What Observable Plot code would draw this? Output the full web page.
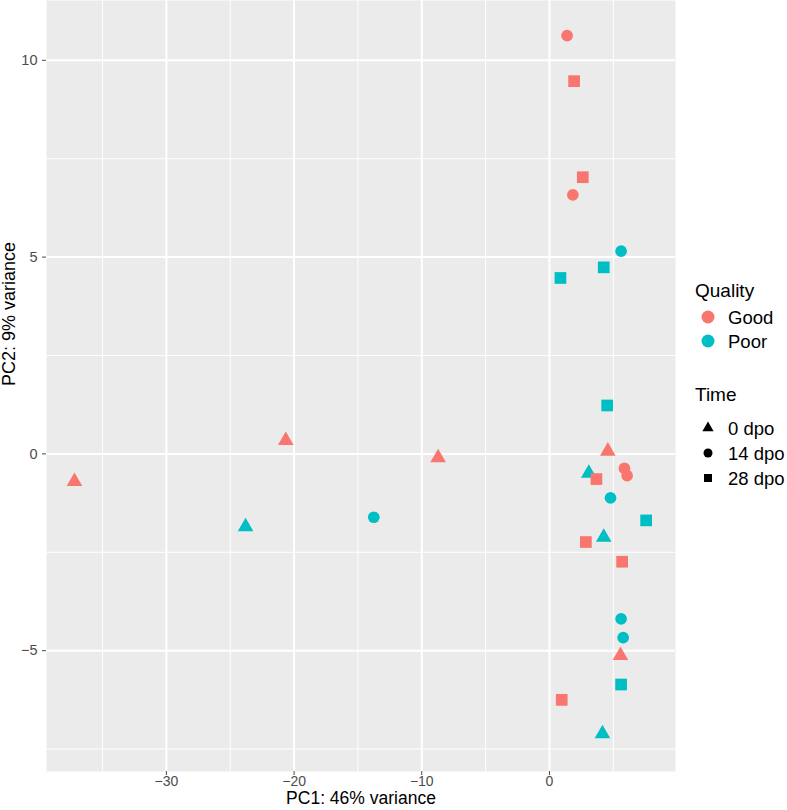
<!DOCTYPE html>
<html>
<head>
<meta charset="utf-8">
<script src="https://cdn.jsdelivr.net/npm/d3@7"></script>
<script src="https://cdn.jsdelivr.net/npm/@observablehq/plot@0.6"></script>
<style>
  body { margin: 0; background: #fff; font-family: "Liberation Sans", Arial, sans-serif; }
  #wrap { position: relative; width: 787px; height: 810px; }
  #legend { position: absolute; left: 680px; top: 270px; }
</style>
</head>
<body>
<div id="wrap"></div>
<script>
// ---- data ----
const qualityLevels = ["Good", "Poor"];
const qualityColors = ["#F8766D", "#00BFC4"];
const timeLevels = ["0 dpo", "14 dpo", "28 dpo"];
const timeSymbols = ["triangle", "circle", "square"];

const quality = [
  "Good","Good","Good","Good","Good",
  "Good","Good","Good","Good",
  "Good","Good","Good","Good","Good","Good",
  "Poor","Poor","Poor","Poor",
  "Poor","Poor","Poor","Poor","Poor",
  "Poor","Poor","Poor","Poor","Poor"
];
const time = [
  "0 dpo","0 dpo","0 dpo","0 dpo","0 dpo",
  "14 dpo","14 dpo","14 dpo","14 dpo",
  "28 dpo","28 dpo","28 dpo","28 dpo","28 dpo","28 dpo",
  "0 dpo","0 dpo","0 dpo","0 dpo",
  "14 dpo","14 dpo","14 dpo","14 dpo","14 dpo",
  "28 dpo","28 dpo","28 dpo","28 dpo","28 dpo"
];
const pc1 = [
  -37.2, -20.65, -8.72, 4.57, 5.56,
  1.38, 1.83, 5.87, 6.08,
  1.93, 2.61, 3.68, 2.85, 5.69, 0.96,
  -23.8, 3.08, 4.25, 4.15,
  -13.76, 5.61, 4.78, 5.61, 5.77,
  4.25, 0.86, 4.52, 7.57, 5.61
];
const pc2 = [
  -0.70, 0.34, -0.10, 0.07, -5.12,
  10.63, 6.58, -0.37, -0.55,
  9.47, 7.03, -0.64, -2.24, -2.74, -6.25,
  -1.85, -0.49, -2.12, -7.11,
  -1.61, 5.15, -1.12, -4.19, -4.67,
  4.74, 4.47, 1.23, -1.69, -5.86
];

const xMajor = [-30, -20, -10, 0];
const xMinor = [-35, -25, -15, -5, 5];
const yMajor = [-5, 0, 5, 10];
const yMinor = [-7.5, -2.5, 2.5, 7.5];
const xTitle = "PC1: 46% variance";
const yTitle = "PC2: 9% variance";

const samples = quality.map((q, i) => ({quality: q, time: time[i], pc1: pc1[i], pc2: pc2[i]}));

const font = "Liberation Sans, Arial, sans-serif";
const radius = {"0 dpo": 5.8, "14 dpo": 5.85, "28 dpo": 6.6};

const dotMarks = timeLevels.map(t =>
  Plot.dot(samples.filter(d => d.time === t), {
    x: "pc1", y: "pc2", fill: "quality", symbol: "time", r: radius[t], stroke: "none"
  })
);

const chart = Plot.plot({
  width: 787,
  height: 810,
  marginLeft: 46,
  marginRight: 112,
  marginTop: 0,
  marginBottom: 39,
  x: {domain: [-39.39, 9.87]},
  y: {domain: [-8.07, 11.52]},
  color: {domain: qualityLevels, range: qualityColors},
  symbol: {domain: timeLevels, range: timeSymbols},
  style: {fontFamily: font, background: "transparent", overflow: "visible"},
  marks: [
    Plot.frame({fill: "#EBEBEB", stroke: "none"}),
    Plot.gridX(xMinor, {stroke: "white", strokeOpacity: 1, strokeWidth: 1}),
    Plot.gridY(yMinor, {stroke: "white", strokeOpacity: 1, strokeWidth: 1}),
    Plot.gridX(xMajor, {stroke: "white", strokeOpacity: 1, strokeWidth: 2}),
    Plot.gridY(yMajor, {stroke: "white", strokeOpacity: 1, strokeWidth: 2}),
    Plot.axisX(xMajor, {tickSize: 4, tickPadding: 1, fontSize: 14, color: "#4D4D4D", label: null}),
    Plot.axisY(yMajor, {tickSize: 4, tickPadding: 5, fontSize: 14.5, color: "#4D4D4D", label: null}),
    ...dotMarks,
    Plot.text([xTitle], {text: d => d, frameAnchor: "bottom", dy: 32.5, fontSize: 17.5, fill: "black"}),
    Plot.text([yTitle], {text: d => d, frameAnchor: "left", dx: -37, rotate: -90, fontSize: 18, fill: "black"})
  ]
});

const wrap = document.getElementById("wrap");
wrap.appendChild(chart);

// ---- legend (HTML overlay beside the SVG) ----
const lg = d3.select(wrap).append("svg")
  .attr("id", "legend")
  .attr("width", 107).attr("height", 230)
  .style("font-family", font);

const keyX = 28;
lg.append("text").attr("x", 15).attr("y", 27).attr("font-size", 19).text("Quality");
const qY = [47, 71];
qualityLevels.forEach((q, i) => {
  lg.append("circle").attr("cx", keyX).attr("cy", qY[i]).attr("r", 6.5).attr("fill", qualityColors[i]);
  lg.append("text").attr("x", 48).attr("y", qY[i] + 6.5).attr("font-size", 18.5).text(q);
});

lg.append("text").attr("x", 15).attr("y", 131).attr("font-size", 19).text("Time");
const tY = [158, 183, 208];
const symMap = {triangle: d3.symbolTriangle, circle: d3.symbolCircle, square: d3.symbolSquare};
const symSize = {triangle: 55, circle: 64, square: 64};
timeLevels.forEach((t, i) => {
  const s = timeSymbols[i];
  lg.append("path")
    .attr("transform", `translate(${keyX},${tY[i]})`)
    .attr("d", d3.symbol(symMap[s], symSize[s])())
    .attr("fill", "black");
  lg.append("text").attr("x", 48).attr("y", tY[i] + 6.5).attr("font-size", 18.5).text(t);
});
</script>
</body>
</html>
